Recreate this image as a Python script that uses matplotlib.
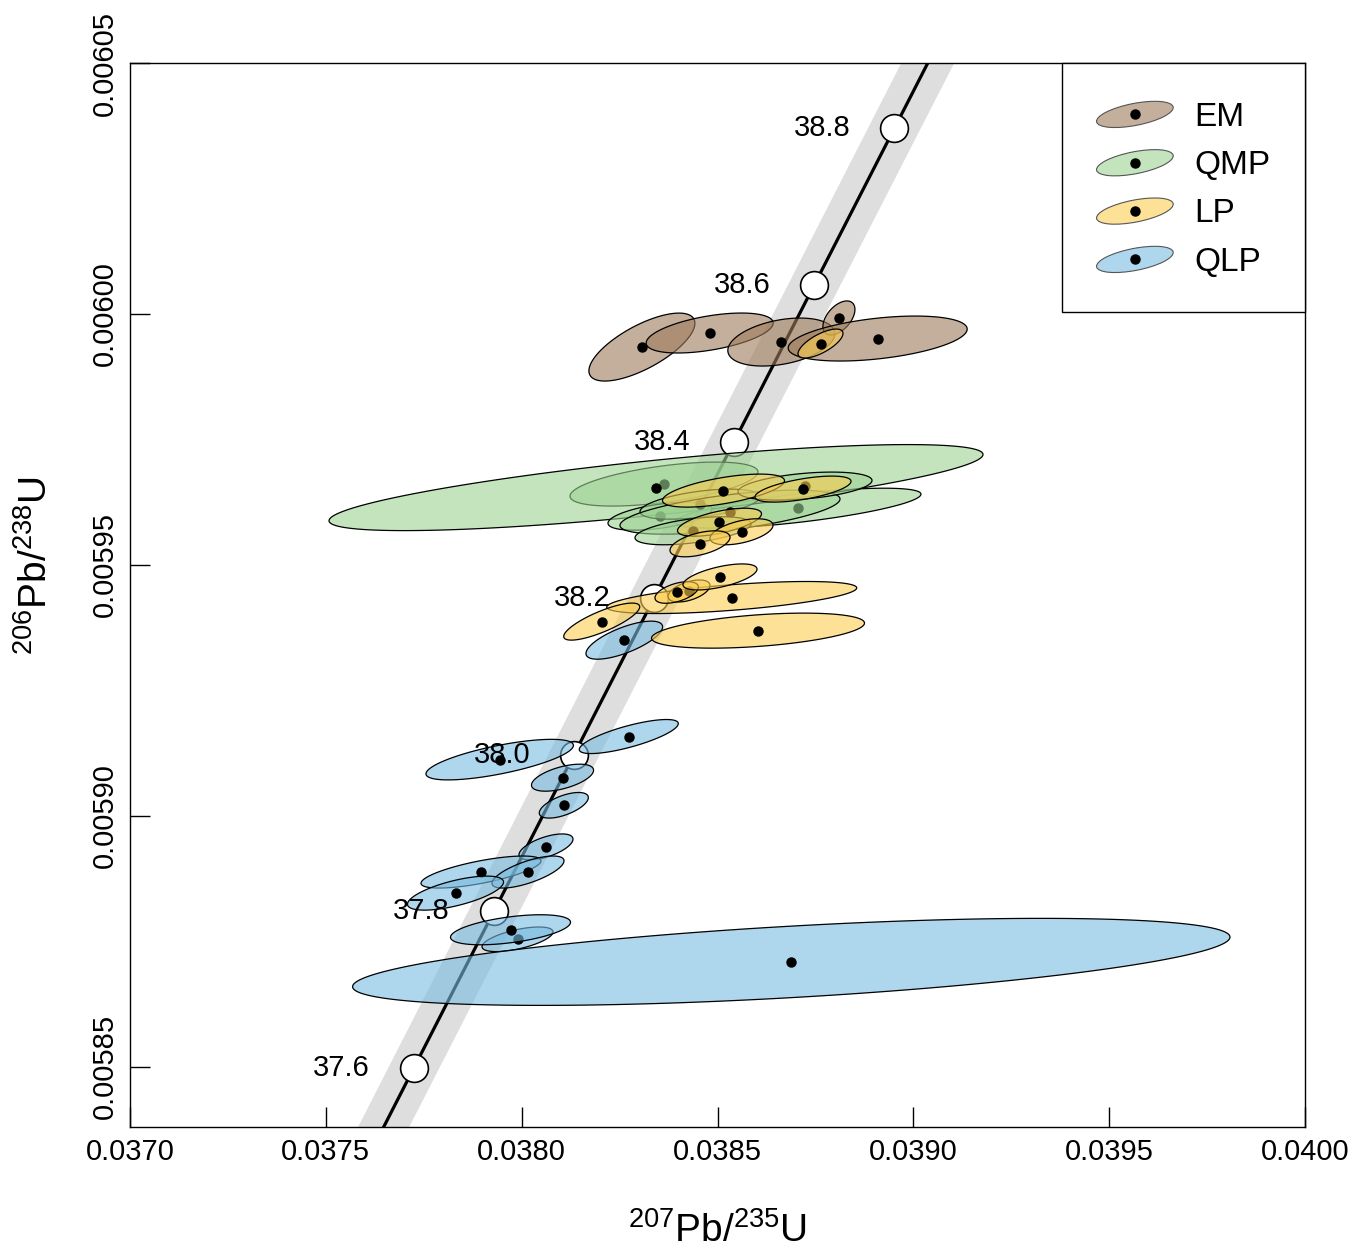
import numpy as np
import matplotlib
matplotlib.use('Agg')
import matplotlib.pyplot as plt
from matplotlib.patches import Polygon, Ellipse
from matplotlib.lines import Line2D
from matplotlib.legend_handler import HandlerBase
from matplotlib.ticker import FormatStrFormatter, FixedLocator

plt.rcParams['font.family'] = ['Liberation Sans', 'DejaVu Sans']
plt.rcParams['mathtext.fontset'] = 'custom'
plt.rcParams['mathtext.rm'] = 'Liberation Sans'
plt.rcParams['mathtext.it'] = 'Liberation Sans:italic'
plt.rcParams['mathtext.bf'] = 'Liberation Sans:bold'
plt.rcParams['mathtext.default'] = 'regular'

# ---------------- data ----------------
# columns: 207Pb/235U, 2s err, 206Pb/238U, 2s err, error correlation
em_x   = [0.038307, 0.038480, 0.038663, 0.038810, 0.038909]
em_sx  = [0.0001353, 0.0001621, 0.0001366, 0.0000409, 0.0002285]
em_y   = [0.0059934, 0.0059962, 0.0059944, 0.0059992, 0.0059951]
em_sy  = [6.77e-6, 3.98e-6, 4.78e-6, 3.39e-6, 4.48e-6]
em_rho = [0.70, 0.50, 0.35, 0.50, 0.42]

qmp_x   = [0.0383634, 0.0387055, 0.0383430, 0.0383532, 0.0384553, 0.0385319, 0.0384375, 0.0387234]
qmp_sx  = [0.000240, 0.000314, 0.0008349, 0.0001328, 0.0001532, 0.0002809, 0.0001481, 0.0001711]
qmp_y   = [0.0059661, 0.0059613, 0.0059654, 0.0059597, 0.0059621, 0.0059605, 0.0059568, 0.0059657]
qmp_sy  = [4.38e-6, 3.98e-6, 8.57e-6, 2.79e-6, 2.99e-6, 4.38e-6, 2.79e-6, 2.79e-6]
qmp_rho = [0.55, 0.70, 0.77, 0.50, 0.50, 0.60, 0.50, 0.40]

lp_x   = [0.0387630, 0.0385153, 0.0387183, 0.0385051, 0.0385613, 0.0384553,
          0.0385363, 0.0384272, 0.0383958, 0.0385064, 0.0382044, 0.0386034]
lp_sx  = [0.0000574, 0.0001557, 0.0001226, 0.0001072, 0.0000804, 0.0000766,
          0.0003192, 0.0000536, 0.0000554, 0.0000945, 0.0000970, 0.0002719]
lp_y   = [0.0059941, 0.0059648, 0.0059651, 0.0059585, 0.0059566, 0.0059542,
          0.0059435, 0.0059448, 0.0059445, 0.0059476, 0.0059387, 0.0059369]
lp_sy  = [2.89e-6, 3.29e-6, 2.59e-6, 2.79e-6, 2.59e-6, 2.59e-6,
          3.19e-6, 2.19e-6, 2.15e-6, 2.59e-6, 3.69e-6, 3.49e-6]
lp_rho = [0.70, 0.60, 0.60, 0.60, 0.50, 0.50, 0.60, 0.50, 0.50, 0.60, 0.80, 0.43]

qlp_x   = [0.0382620, 0.0382735, 0.0379439, 0.0381043, 0.0381076, 0.0380621,
           0.0378962, 0.0380162, 0.0378311, 0.0379894, 0.0379715, 0.0386884]
qlp_sx  = [0.0000978, 0.0001264, 0.0001882, 0.0000792, 0.0000626, 0.0000689,
           0.0001532, 0.0000919, 0.0001226, 0.0000906, 0.0001532, 0.0011201]
qlp_y   = [0.0059350, 0.0059158, 0.0059112, 0.0059076, 0.0059021, 0.0058938,
           0.0058888, 0.0058888, 0.0058846, 0.0058754, 0.0058773, 0.0058709]
qlp_sy  = [3.79e-6, 3.39e-6, 4.04e-6, 2.69e-6, 2.55e-6, 2.59e-6,
           3.19e-6, 3.19e-6, 3.39e-6, 2.45e-6, 2.99e-6, 8.67e-6]
qlp_rho = [0.70, 0.76, 0.70, 0.55, 0.60, 0.60, 0.70, 0.70, 0.65, 0.60, 0.50, 0.57]

groups = ['EM', 'QMP', 'LP', 'QLP']
group_colors = {'EM': '#9d7b5a', 'QMP': '#9dd293', 'LP': '#fbcd50', 'QLP': '#78bbe1'}
ALPHA = 0.6

# concordia
concordia_ages = [37.6, 37.8, 38.0, 38.2, 38.4, 38.6, 38.8]   # Ma
LAMBDA_238 = 1.55125e-10
LAMBDA_235 = 9.8485e-10
LAMBDA_235_REL_ERR = 0.0017

x_ticks = [0.0370, 0.0375, 0.0380, 0.0385, 0.0390, 0.0395, 0.0400]
y_ticks = [0.00585, 0.00590, 0.00595, 0.00600, 0.00605]

# ---------------- figure ----------------
fig = plt.figure(figsize=(13.68, 12.56), dpi=100)
ax = fig.add_axes([130/1368, 1 - 1127/1256, 1175/1368, 1064/1256])
ax.set_xlim(0.0370, 0.0400)
ax.set_ylim(0.005838, 0.00605)

# concordia band + line
t = np.linspace(36.5, 40.0, 600) * 1e6
cy = np.expm1(LAMBDA_238 * t)
cx = np.expm1(LAMBDA_235 * t)
cx_lo = np.expm1(LAMBDA_235 * (1 - LAMBDA_235_REL_ERR) * t)
cx_hi = np.expm1(LAMBDA_235 * (1 + LAMBDA_235_REL_ERR) * t)
ax.fill_betweenx(cy, cx_lo, cx_hi, color='#dedede', lw=0, zorder=1)
ax.plot(cx, cy, color='black', lw=2.3, zorder=2, solid_capstyle='butt')

ta = np.array(concordia_ages) * 1e6
ax_ = np.expm1(LAMBDA_235 * ta)
ay_ = np.expm1(LAMBDA_238 * ta)
ax.plot(ax_, ay_, 'o', ms=20, mfc='white', mec='black', mew=1.2, ls='none', zorder=3)
for a, xx, yy in zip(concordia_ages, ax_, ay_):
    ax.annotate(f'{a:.1f}', (xx, yy), xytext=(-31.5, 0), textcoords='offset points',
                ha='right', va='center', fontsize=21, zorder=50)


def ellipse_pts(cx0, cy0, ex, ey, rho, n=240):
    th = np.linspace(0, 2 * np.pi, n)
    xs = cx0 + ex * np.cos(th)
    ys = cy0 + ey * (rho * np.cos(th) + np.sqrt(1 - rho ** 2) * np.sin(th))
    return np.column_stack([xs, ys])


z = [4.0]


def draw_group(xs, sxs, ys, sys_, rhos, color):
    for x0, sx, y0, sy, r in zip(xs, sxs, ys, sys_, rhos):
        poly = Polygon(ellipse_pts(x0, y0, sx, sy, r), closed=True,
                       facecolor=matplotlib.colors.to_rgba(color, ALPHA),
                       edgecolor='black', lw=0.9, zorder=z[0])
        ax.add_patch(poly)
        ax.plot([x0], [y0], 'o', color='black', ms=6.5, zorder=z[0] + 0.005)
        z[0] += 0.01


draw_group(qlp_x, qlp_sx, qlp_y, qlp_sy, qlp_rho, group_colors['QLP'])
draw_group(qmp_x, qmp_sx, qmp_y, qmp_sy, qmp_rho, group_colors['QMP'])
draw_group(em_x, em_sx, em_y, em_sy, em_rho, group_colors['EM'])
draw_group(lp_x, lp_sx, lp_y, lp_sy, lp_rho, group_colors['LP'])


# ---------------- legend ----------------
class EllipseHandle:
    def __init__(self, color):
        self.color = color


class HandlerEllipseDot(HandlerBase):
    def create_artists(self, legend, orig_handle, xdescent, ydescent, width, height,
                       fontsize, trans):
        cx0 = 0.5 * width - xdescent
        cy0 = 0.5 * height - ydescent
        e = Ellipse((cx0, cy0), width=width, height=0.66 * fontsize, angle=11,
                    facecolor=matplotlib.colors.to_rgba(orig_handle.color, ALPHA),
                    edgecolor='#555555', lw=0.8, transform=trans)
        d = Line2D([cx0], [cy0], marker='o', ls='none', color='black', markersize=6.5,
                   transform=trans)
        return [e, d]


handles = [EllipseHandle(group_colors[g]) for g in groups]
leg = ax.legend(handles, groups, handler_map={EllipseHandle: HandlerEllipseDot()},
                loc='upper right', bbox_to_anchor=(1, 1), borderaxespad=0,
                fontsize=24, handlelength=2.34, handleheight=1.2, handletextpad=0.62,
                labelspacing=0.39, borderpad=1.03, fancybox=False, framealpha=1,
                edgecolor='black')
leg.get_frame().set_linewidth(1.0)
leg.set_zorder(100)

# ---------------- axes styling ----------------
ax.xaxis.set_major_locator(FixedLocator(x_ticks))
ax.yaxis.set_major_locator(FixedLocator(y_ticks))
ax.xaxis.set_major_formatter(FormatStrFormatter('%.4f'))
ax.yaxis.set_major_formatter(FormatStrFormatter('%.5f'))
ax.tick_params(direction='in', length=14.4, width=1.0, top=False, right=False,
               labelsize=21, color='black')
ax.tick_params(axis='x', pad=8)
ax.tick_params(axis='y', pad=8, labelrotation=90)
for lbl in ax.get_yticklabels():
    lbl.set_verticalalignment('center')
for s in ax.spines.values():
    s.set_linewidth(1.0)

ax.set_xlabel(r'$^{207}$Pb/$^{235}$U', fontsize=28)
ax.xaxis.set_label_coords(0.5, -0.08)
ax.set_ylabel(r'$^{206}$Pb/$^{238}$U', fontsize=28)
ax.yaxis.set_label_coords(-0.064, 0.528)

fig.savefig('out.png', dpi=100)
